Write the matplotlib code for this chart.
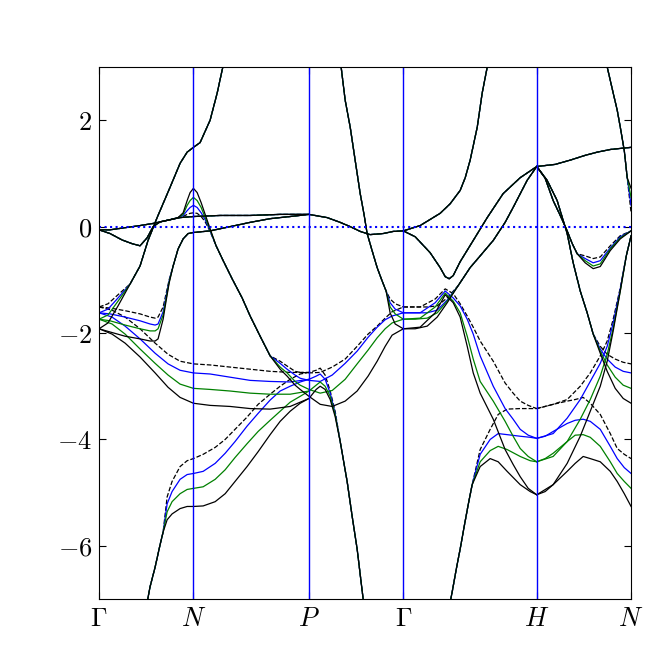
import numpy as np
import matplotlib
matplotlib.use("Agg")
import matplotlib.pyplot as plt

plt.rcParams.update({"mathtext.fontset": "cm", "font.size": 19,
                     "xtick.direction": "in", "ytick.direction": "in",
                     "xtick.top": True, "ytick.right": True,
                     "xtick.major.size": 5, "ytick.major.size": 5})

# path Γ-N-P-Γ-H-N (bcc), segment lengths in 2π/a
seg_len = [0.707, 0.866, 0.707, 1.0, 0.707]
kpt_labels = [r"$\Gamma$", r"$N$", r"$P$", r"$\Gamma$", r"$H$", r"$N$"]
e_ticks = [-6, -4, -2, 0, 2]

# ---- bands (k in 2π/a, E in eV); four calculations: dashed, blue, green, black ----
# A : Γ -> N -> out of top
k_A = [0.0, 0.067, 0.142, 0.232, 0.307, 0.367, 0.435, 0.532, 0.607, 0.660, 0.707, 0.757, 0.832, 0.885, 0.922, 0.945]
A_tail = [-1.08, -0.74, -0.26, 0.17, 0.74, 1.19, 1.40, 1.49, 1.58, 2.00, 2.51, 2.94, 3.17]
A_dash = [-1.51, -1.45, -1.28] + A_tail
A_blue = [-1.62, -1.55, -1.34] + A_tail
A_green = [-1.74, -1.66, -1.40] + A_tail
A_black = [-1.92, -1.81, -1.49] + A_tail

# B : Γ -> N -> P -> steep drop
k_B = [0, 0.097, 0.195, 0.307, 0.420, 0.517, 0.607, 0.707, 0.832, 0.982, 1.132, 1.282, 1.432, 1.573,
       1.627, 1.657, 1.694, 1.732, 1.769, 1.807, 1.859, 1.897, 1.934, 1.979, 1.994]
S_tail = [-4.04, -4.79, -5.45, -6.06, -7.0, -7.25]
B_dash = [-1.51, -1.57, -1.70, -1.92, -2.19, -2.40, -2.53, -2.58, -2.60, -2.64, -2.68, -2.72, -2.74, -2.74,
          -2.70, -2.66, -2.79, -3.09, -3.47] + S_tail
B_blue = [-1.62, -1.70, -1.87, -2.11, -2.38, -2.58, -2.70, -2.75, -2.77, -2.83, -2.89, -2.91, -2.92, -2.87,
          -2.81, -2.77, -2.87, -3.13, -3.51] + S_tail
B_green = [-1.74, -1.83, -2.02, -2.30, -2.57, -2.79, -2.96, -3.04, -3.06, -3.09, -3.13, -3.15, -3.15, -3.09,
           -2.98, -2.92, -3.0, -3.19, -3.53] + S_tail
B_black = [-1.92, -2.02, -2.19, -2.45, -2.75, -3.02, -3.21, -3.32, -3.36, -3.38, -3.42, -3.43, -3.38, -3.23,
           -3.06, -3.0, -3.06, -3.25, -3.57] + S_tail

# L : bottom -> N -> P
k_L = [0.352, 0.382, 0.420, 0.457, 0.480, 0.510, 0.547, 0.607, 0.660, 0.707,
       0.780, 0.870, 0.945, 1.019, 1.109, 1.192, 1.282, 1.357, 1.432, 1.507, 1.573]
L_head = [-7.17, -6.77, -6.40, -5.98, -5.74]
L_dash = L_head + [-5.08, -4.79, -4.51, -4.40, -4.36, -4.28, -4.15, -4.0, -3.81, -3.58, -3.34, -3.15, -3.0, -2.87, -2.77, -2.74]
L_blue = L_head + [-5.21, -4.98, -4.75, -4.66, -4.64, -4.60, -4.45, -4.26, -4.04, -3.75, -3.51, -3.26, -3.09, -3.0, -2.92, -2.87]
L_green = L_head + [-5.36, -5.17, -5.02, -4.94, -4.92, -4.89, -4.75, -4.57, -4.34, -4.08, -3.85, -3.64, -3.47, -3.30, -3.19, -3.09]
L_black = L_head + [-5.51, -5.40, -5.30, -5.26, -5.26, -5.25, -5.17, -5.02, -4.79, -4.51, -4.23, -3.91, -3.66, -3.47, -3.32, -3.23]

# D : Γ -> dip -> peak at N -> P -> Γ
k_D = [0, 0.082, 0.172, 0.247, 0.307, 0.360, 0.405, 0.457, 0.532, 0.592, 0.630, 0.660, 0.682, 0.707,
       0.735, 0.765, 0.795, 0.832, 0.877, 0.930, 0.997, 1.072, 1.132, 1.207, 1.282, 1.357, 1.409, 1.469, 1.507, 1.573,
       1.657, 1.747, 1.844, 1.934, 2.016, 2.084, 2.144, 2.196, 2.280]
D_left = [-0.06, -0.13, -0.25, -0.32, -0.36, -0.21, 0.0, 0.09, 0.13, 0.17]
D_mid = [-0.36, -0.64, -0.98, -1.34, -1.68, -2.06, -2.43]
D_dash = D_left + [0.19, 0.23, 0.25, 0.26, 0.25, 0.19, 0.09, -0.09] + D_mid + [-2.53, -2.62, -2.72, -2.74, -2.75] + \
    [-2.74, -2.64, -2.49, -2.25, -2.02, -1.87, -1.72, -1.60, -1.51]
D_blue = D_left + [0.21, 0.30, 0.36, 0.40, 0.36, 0.26, 0.13, -0.08] + D_mid + [-2.57, -2.68, -2.79, -2.85, -2.89] + \
    [-2.91, -2.79, -2.57, -2.34, -2.08, -1.89, -1.75, -1.68, -1.62]
D_green = D_left + [0.23, 0.40, 0.49, 0.55, 0.49, 0.36, 0.17, -0.06] + D_mid + [-2.64, -2.75, -2.91, -2.98, -3.06] + \
    [-3.13, -3.08, -2.87, -2.58, -2.32, -2.09, -1.92, -1.81, -1.74]
D_black = D_left + [0.26, 0.49, 0.64, 0.72, 0.64, 0.45, 0.23, -0.04] + D_mid + [-2.68, -2.81, -2.98, -3.06, -3.19] + \
    [-3.34, -3.38, -3.28, -3.09, -2.81, -2.53, -2.25, -2.04, -1.92]

# C : Γ -> dip -> N -> P -> Γ (near E_F)
k_C = [0, 0.082, 0.195, 0.307, 0.382, 0.420, 0.442, 0.480, 0.502, 0.525, 0.555, 0.592, 0.630, 0.667, 0.707,
       0.832, 0.982, 1.132, 1.282, 1.432, 1.573, 1.709, 1.807, 1.882, 1.957, 2.031, 2.129, 2.204, 2.280]
C_tail = [-0.74, -0.42, -0.23, -0.13, -0.11, -0.08, 0.0, 0.08, 0.15, 0.19, 0.23, 0.17, 0.08, 0.0, -0.09, -0.15, -0.13, -0.09, -0.08]
C_dash = [-1.51, -1.53, -1.58, -1.64, -1.70, -1.72, -1.70, -1.51, -1.26, -1.00] + C_tail
C_blue = [-1.62, -1.64, -1.70, -1.77, -1.83, -1.85, -1.83, -1.60, -1.32, -1.02] + C_tail
C_green = [-1.74, -1.77, -1.85, -1.92, -1.96, -1.96, -1.92, -1.66, -1.36, -1.04] + C_tail
C_black = [-1.92, -1.98, -2.06, -2.11, -2.15, -2.15, -2.11, -1.74, -1.40, -1.06] + C_tail

# F : Γ -> N -> P flat band
k_F = [0, 0.082, 0.195, 0.307, 0.405, 0.495, 0.607, 0.707, 0.907, 1.132, 1.357, 1.573]
F_all = [-0.06, -0.06, -0.02, 0.02, 0.06, 0.11, 0.17, 0.19, 0.21, 0.21, 0.23, 0.23]

# S2 : top -> Γ (P-Γ line)
k_S2 = [1.799, 1.814, 1.844, 1.882, 1.919, 1.957, 1.987, 2.009, 2.046, 2.084, 2.121, 2.151, 2.181, 2.219, 2.280]
S2_head = [3.23, 3.0, 2.38, 1.87, 1.25, 0.62, 0.21, -0.13, -0.45, -0.77, -1.02, -1.21]
S2_dash = S2_head + [-1.36, -1.45, -1.51]
S2_blue = S2_head + [-1.43, -1.55, -1.62]
S2_green = S2_head + [-1.51, -1.64, -1.74]
S2_black = S2_head + [-1.62, -1.83, -1.92]

# G : Γ -> top (Γ-H line)
k_G = [2.280, 2.406, 2.556, 2.631, 2.706, 2.744, 2.781, 2.834, 2.871, 2.909, 2.931]
G_all = [-0.08, 0.02, 0.25, 0.43, 0.68, 0.92, 1.25, 1.87, 2.51, 3.0, 3.32]

# V : Γ -> down -> up to H
k_V = [2.280, 2.369, 2.481, 2.556, 2.594, 2.624, 2.654, 2.706, 2.804, 2.909, 3.028, 3.156, 3.280]
V_all = [-0.08, -0.19, -0.49, -0.77, -0.94, -0.98, -0.92, -0.66, -0.26, 0.17, 0.62, 0.92, 1.13]

# R : Γ -> up to H
k_R = [2.280, 2.369, 2.459, 2.534, 2.609, 2.691, 2.781, 2.856, 2.954, 3.043, 3.103, 3.208, 3.280]
R_tail = [-1.11, -0.77, -0.55, -0.26, 0.08, 0.36, 0.87, 1.13]
R_dash = [-1.51, -1.51, -1.51, -1.49, -1.34] + R_tail
R_blue = [-1.62, -1.62, -1.62, -1.57, -1.38] + R_tail
R_green = [-1.74, -1.74, -1.72, -1.62, -1.40] + R_tail
R_black = [-1.92, -1.92, -1.87, -1.70, -1.43] + R_tail

# U : Γ -> hump -> down to H
k_U = [2.280, 2.406, 2.519, 2.594, 2.654, 2.706, 2.759, 2.804, 2.856, 2.954, 3.043, 3.103, 3.156, 3.216, 3.280]
U_dash = [-1.51, -1.51, -1.36, -1.17, -1.26, -1.45, -1.68, -1.89, -2.15, -2.53, -2.94, -3.13, -3.28, -3.36, -3.42]
U_blue = [-1.62, -1.62, -1.43, -1.21, -1.34, -1.49, -1.74, -2.02, -2.43, -3.0, -3.42, -3.62, -3.81, -3.92, -3.98]
U_green = [-1.74, -1.72, -1.51, -1.25, -1.40, -1.62, -2.06, -2.49, -2.91, -3.28, -3.66, -3.94, -4.17, -4.32, -4.42]
U_black = [-1.92, -1.89, -1.62, -1.28, -1.43, -1.70, -2.25, -2.75, -3.13, -3.62, -4.19, -4.47, -4.70, -4.92, -5.04]

# W : bottom -> hump -> H -> hump -> N
k_W = [2.624, 2.646, 2.676, 2.706, 2.736, 2.766, 2.796,
       2.856, 2.931, 2.991, 3.058, 3.156, 3.231, 3.280, 3.343, 3.403, 3.508, 3.568, 3.628, 3.681, 3.756, 3.831, 3.883, 3.936, 3.987]
W_head = [-7.15, -6.87, -6.45, -6.06, -5.64, -5.23, -4.85]
W_dash = W_head + [-4.19, -3.81, -3.53, -3.43, -3.42, -3.42, -3.42, -3.38, -3.34, -3.28, -3.25, -3.21, -3.32, -3.53, -3.89, -4.17, -4.28, -4.36]
W_blue = W_head + [-4.28, -4.0, -3.89, -3.91, -3.94, -3.96, -3.98, -3.94, -3.85, -3.70, -3.64, -3.62, -3.66, -3.81, -4.13, -4.36, -4.53, -4.64]
W_green = W_head + [-4.42, -4.21, -4.13, -4.19, -4.32, -4.40, -4.42, -4.36, -4.26, -4.04, -3.92, -3.91, -3.96, -4.13, -4.42, -4.64, -4.79, -4.92]
W_black = W_head + [-4.51, -4.36, -4.42, -4.60, -4.85, -4.98, -5.04, -4.98, -4.85, -4.60, -4.45, -4.32, -4.36, -4.42, -4.60, -4.79, -5.02, -5.26]

# Q : H bottom -> up to N
k_Q = [3.280, 3.403, 3.508, 3.606, 3.681, 3.756, 3.808, 3.853, 3.906, 3.951, 3.987]
Q_dash = [-3.42, -3.34, -3.25, -3.0, -2.75, -2.43, -2.15, -1.74, -1.15, -0.55, -0.17]
Q_blue = [-3.98, -3.89, -3.60, -3.25, -2.91, -2.57, -2.25, -1.81, -1.17, -0.55, -0.17]
Q_green = [-4.42, -4.32, -4.04, -3.62, -3.25, -2.81, -2.40, -1.91, -1.21, -0.55, -0.17]
Q_black = [-5.04, -4.85, -4.45, -3.94, -3.47, -3.0, -2.53, -1.96, -1.21, -0.55, -0.17]

# T : H top -> steep down -> N
k_T = [3.280, 3.358, 3.433, 3.508, 3.553, 3.606, 3.658, 3.703, 3.756, 3.808, 3.868, 3.928, 3.987]
T_head = [1.13, 0.87, 0.49, -0.13, -0.68, -1.21, -1.62, -2.02]
T_dash = T_head + [-2.25, -2.40, -2.49, -2.55, -2.58]
T_blue = T_head + [-2.30, -2.49, -2.64, -2.72, -2.75]
T_green = T_head + [-2.34, -2.60, -2.83, -2.98, -3.04]
T_black = T_head + [-2.38, -2.72, -3.04, -3.23, -3.32]

# M : H top -> small valley -> N
k_M = [3.280, 3.343, 3.403, 3.456, 3.508, 3.546, 3.583, 3.643, 3.703, 3.756, 3.831, 3.906, 3.987]
M_head = [1.13, 0.91, 0.49, 0.21, -0.08, -0.32, -0.51]
M_dash = M_head + [-0.55, -0.60, -0.57, -0.36, -0.17, -0.08]
M_blue = M_head + [-0.60, -0.68, -0.64, -0.40, -0.19, -0.08]
M_green = M_head + [-0.64, -0.74, -0.70, -0.42, -0.21, -0.08]
M_black = M_head + [-0.68, -0.79, -0.75, -0.45, -0.23, -0.08]

# H top -> N, flat upper band
k_HN = [3.280, 3.418, 3.531, 3.643, 3.733, 3.831, 3.906, 3.987]
HN_all = [1.13, 1.17, 1.25, 1.34, 1.40, 1.45, 1.47, 1.49]

# top -> N (steep, H-N line)
k_Z = [3.793, 3.808, 3.831, 3.853, 3.883, 3.906, 3.936, 3.958, 3.987]
Z_head = [3.32, 3.0, 2.75, 2.51, 2.19, 1.87, 1.43, 0.92]
Z_dash = Z_head + [0.26]
Z_blue = Z_head + [0.40]
Z_green = Z_head + [0.55]
Z_black = Z_head + [0.72]

# ---------------------------------------------------------------------------
kticks = np.concatenate([[0.0], np.cumsum(seg_len)])
styles = [dict(color="k", ls="--"), dict(color="b"), dict(color="g"), dict(color="k")]
bands = [
    (k_A, [A_dash, A_blue, A_green, A_black]),
    (k_B, [B_dash, B_blue, B_green, B_black]),
    (k_L, [L_dash, L_blue, L_green, L_black]),
    (k_D, [D_dash, D_blue, D_green, D_black]),
    (k_C, [C_dash, C_blue, C_green, C_black]),
    (k_F, [F_all] * 4),
    (k_S2, [S2_dash, S2_blue, S2_green, S2_black]),
    (k_G, [G_all] * 4),
    (k_V, [V_all] * 4),
    (k_R, [R_dash, R_blue, R_green, R_black]),
    (k_U, [U_dash, U_blue, U_green, U_black]),
    (k_W, [W_dash, W_blue, W_green, W_black]),
    (k_Q, [Q_dash, Q_blue, Q_green, Q_black]),
    (k_T, [T_dash, T_blue, T_green, T_black]),
    (k_M, [M_dash, M_blue, M_green, M_black]),
    (k_HN, [HN_all] * 4),
    (k_Z, [Z_dash, Z_blue, Z_green, Z_black]),
]

fig = plt.figure(figsize=(6.65, 6.65), dpi=100)
ax = fig.add_axes([0.149, 0.0992, 0.8, 0.8])

for i, st in enumerate(styles):
    for k, es in bands:
        ax.plot(k, es[i], lw=0.9, **st)

for kv in kticks[1:-1]:
    ax.axvline(kv, color="b", lw=1.0)
ax.axhline(0.0, color="b", ls=":", lw=1.5)

ax.set_xlim(kticks[0], kticks[-1])
ax.set_ylim(-7, 3)
ax.set_xticks(kticks)
ax.set_xticklabels(kpt_labels)
ax.set_yticks(e_ticks)
ax.set_yticklabels([rf"${v}$" for v in e_ticks])
ax.tick_params(axis="both", pad=5)

fig.savefig("out.png", dpi=100)
